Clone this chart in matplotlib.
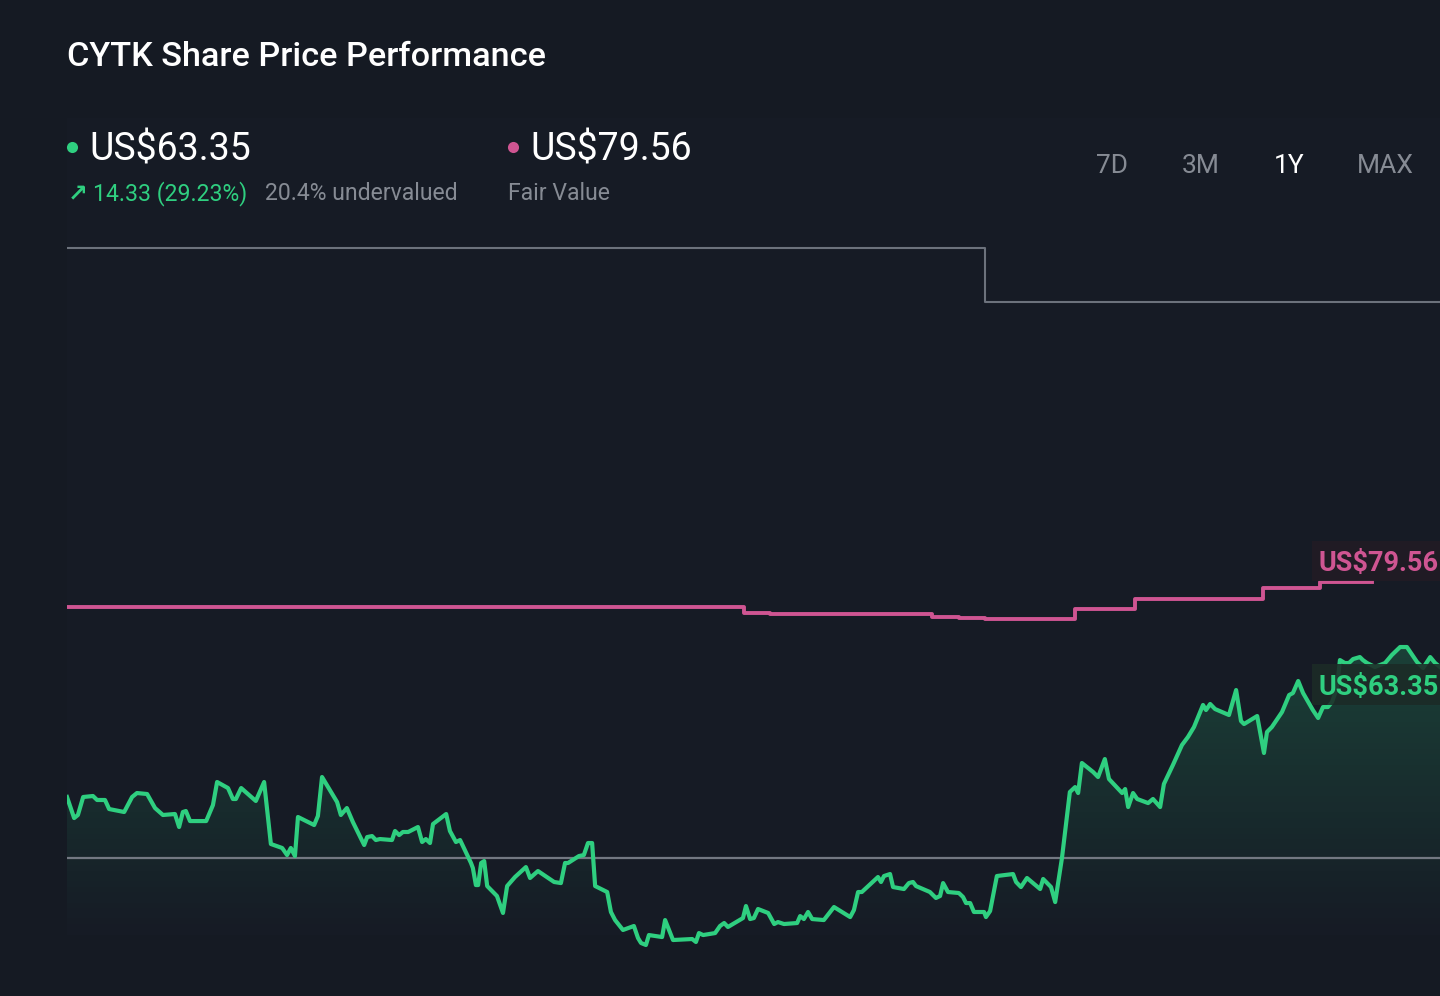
import numpy as np
import matplotlib
matplotlib.use('Agg')
import matplotlib.pyplot as plt
from matplotlib.patches import Rectangle
from matplotlib.lines import Line2D
from matplotlib.colors import LinearSegmentedColormap

plt.rcParams['font.family'] = ['Roboto', 'DejaVu Sans']

# ---- data ----
# share price, days from start of the 1Y window
price_days = [0.0, 1.9, 2.9, 4.3, 6.9, 8.0, 10.1, 11.2, 15.2, 17.3, 18.6, 21.3, 23.4, 25.5,
              28.7, 29.8, 30.8, 31.6, 32.7, 37.0, 38.8, 39.9, 42.8, 44.1, 44.9, 46.3, 50.2,
              52.4, 54.2, 57.2, 58.5, 59.5, 60.6, 61.4, 65.7, 66.7, 67.8, 71.8, 72.8, 74.4,
              76.0, 79.0, 79.8, 81.1, 82.1, 83.2, 86.4, 87.2, 88.3, 89.3, 90.7, 93.3, 94.4,
              95.4, 96.5, 97.3, 100.8, 101.8, 103.4, 104.5, 107.4, 107.9, 108.7, 109.3, 110.1,
              110.9, 111.7, 114.3, 115.9, 117.0, 119.1, 122.0, 123.1, 125.2, 129.5, 131.3,
              132.4, 133.2, 136.1, 137.4, 138.5, 139.6, 140.4, 143.6, 144.6, 145.7, 147.8,
              150.7, 151.8, 152.6, 153.9, 154.7, 158.2, 159.0, 161.1, 166.2, 167.2, 168.0,
              169.1, 172.3, 173.6, 174.7, 175.7, 179.7, 180.5, 181.6, 182.6, 183.7, 186.4,
              188.0, 189.0, 190.6, 194.1, 194.9, 195.9, 197.0, 198.1, 201.2, 203.9, 208.2,
              209.2, 210.3, 211.3, 215.6, 216.4, 217.2, 218.8, 219.6, 222.5, 223.8, 224.9,
              225.7, 229.4, 231.0, 232.1, 232.9, 234.2, 237.1, 238.2, 239.0, 240.1, 241.1,
              243.8, 244.3, 245.4, 247.2, 251.5, 252.3, 253.6, 255.2, 258.7, 259.5, 261.6,
              262.7, 264.5, 266.6, 268.0, 268.8, 269.8, 272.8, 274.1, 275.9, 277.0, 280.5,
              281.3, 282.1, 283.4, 284.5, 287.4, 288.7, 290.6, 291.6, 294.0, 296.4, 298.0,
              299.6, 302.0, 302.8, 303.9, 305.2, 308.9, 310.8, 312.1, 312.9, 316.4, 318.2,
              319.0, 320.3, 323.0, 324.9, 325.9, 327.3, 328.6, 331.2, 332.6, 333.9, 335.2,
              336.3, 337.6, 338.4, 339.7, 340.8, 341.9, 343.7, 344.5, 345.6, 347.7, 350.4,
              352.2, 354.4, 356.2, 358.9, 360.5, 362.4, 363.7, 365.0]
price_vals = [55.77, 53.44, 53.78, 55.77, 55.88, 55.44, 55.44, 54.44, 54.11, 55.77, 56.21, 56.10,
              54.55, 53.78, 53.89, 52.45, 54.11, 54.22, 53.11, 53.11, 54.88, 57.43, 56.76, 55.55,
              55.55, 56.76, 55.33, 57.43, 50.57, 50.13, 49.35, 50.13, 49.24, 53.56, 52.67, 53.67,
              57.98, 55.21, 53.78, 54.55, 53.00, 50.46, 51.34, 51.45, 51.01, 51.12, 51.01, 52.01,
              51.56, 51.90, 51.90, 52.45, 50.79, 51.12, 50.68, 52.78, 53.89, 52.01, 50.79, 51.01,
              48.47, 47.91, 46.03, 46.03, 48.47, 48.69, 45.92, 44.82, 42.94, 45.92, 46.92, 48.02,
              46.81, 47.58, 46.37, 46.25, 48.47, 48.47, 49.24, 49.35, 50.68, 50.68, 45.92, 45.26,
              43.05, 42.16, 41.06, 41.50, 40.17, 39.62, 39.40, 40.50, 40.28, 42.16, 39.95, 40.06,
              39.73, 40.72, 40.50, 40.72, 41.50, 41.83, 41.39, 42.38, 43.71, 42.27, 42.38, 43.38,
              42.94, 41.72, 41.94, 41.72, 41.83, 42.60, 42.27, 43.05, 42.27, 42.16, 43.60, 42.49,
              43.27, 45.26, 45.26, 46.92, 46.37, 47.03, 47.25, 45.81, 45.59, 46.25, 46.37, 45.92,
              45.26, 44.60, 44.82, 46.25, 45.26, 45.15, 44.71, 44.04, 44.04, 43.05, 43.05, 42.49,
              43.16, 47.03, 47.25, 46.37, 45.81, 46.81, 45.59, 46.70, 45.81, 44.15, 49.02, 56.32,
              56.87, 56.21, 59.53, 58.53, 57.98, 59.97, 57.76, 56.21, 56.65, 54.66, 56.21, 55.55,
              55.10, 55.55, 54.66, 57.21, 59.31, 61.52, 62.41, 63.51, 65.95, 65.39, 66.06, 65.50,
              64.84, 67.60, 64.17, 63.84, 64.73, 60.64, 62.96, 63.51, 65.17, 67.05, 67.27, 68.60,
              67.27, 65.39, 64.51, 65.72, 65.72, 66.28, 67.83, 70.92, 70.59, 70.59, 71.03, 71.25,
              70.92, 70.59, 70.15, 70.59, 71.48, 72.36, 72.36, 70.70, 70.04, 71.25, 70.59, 70.15]

# fair value (step line)
fair_days = [0, 180, 187, 230, 237, 244, 268, 284, 318, 333, 347]
fair_vals = [76.79, 76.12, 76.01, 75.68, 75.57, 75.46, 76.57, 77.67, 78.89, 79.56, 79.56]

# analyst price target (step line)
target_days = [0, 244, 365]
target_vals = [116.50, 110.52, 110.52]

price_year_ago = 49.02
last_price = 'US$63.35'
fair_value = 'US$79.56'
change_text = '14.33 (29.23%)'
valuation_text = '20.4% undervalued'
periods = ['7D', '3M', '1Y', 'MAX']
active_period = '1Y'

# ---- styling ----
BG = '#151a23'
GREEN = '#2fcf80'
PINK = '#cf5592'
GREY = '#6c727c'
MUTED = '#868b94'
W, H = 1440, 996

def fx(px):
    return px / W

def fy(py):
    return 1 - py / H

fig = plt.figure(figsize=(W / 100, H / 100), dpi=100, facecolor=BG)

# faint panel behind the chart
fig.patches.append(Rectangle((fx(67), fy(935)), 1 - fx(67), (935 - 118) / H,
                             transform=fig.transFigure, facecolor='#161b25',
                             edgecolor='none', zorder=-5))

ax = fig.add_axes([fx(67), fy(960), 1 - fx(67), (960 - 230) / H])
ax.set_zorder(1)
ax.set_facecolor('none')
ax.set_xlim(0, 365)
ax.set_ylim(37.74, 118.49)
ax.axis('off')

# gradient fill under the price line
fill = ax.fill_between(price_days, price_vals, 30, facecolor='none', edgecolor='none')
grad_cmap = LinearSegmentedColormap.from_list(
    'g', [(0.18, 0.81, 0.5, 0.0), (0.18, 0.81, 0.5, 0.22)])
grad = np.linspace(0, 1, 256).reshape(-1, 1)
im = ax.imshow(grad, cmap=grad_cmap, aspect='auto', origin='lower',
               extent=[0, 365, 40.5, 73.5], zorder=1, interpolation='bilinear')
im.set_clip_path(fill.get_paths()[0], transform=ax.transData)

ax.axhline(price_year_ago, color='#737882', lw=1.6, zorder=2)
ax.step(target_days, target_vals, where='post', color=GREY, lw=1.5, zorder=2)
ax.step(fair_days, fair_vals, where='post', color=PINK, lw=2.8, zorder=3)
ax.plot(price_days, price_vals, color=GREEN, lw=3.0, zorder=4,
        solid_joinstyle='round')

# value tags at the right edge
fig.patches.append(Rectangle((fx(1312), fy(581)), 1 - fx(1312), 40 / H,
                             transform=fig.transFigure, facecolor='#211b24',
                             alpha=0.92, edgecolor='none', zorder=5))
fig.patches.append(Rectangle((fx(1312), fy(705)), 1 - fx(1312), 41 / H,
                             transform=fig.transFigure, facecolor='#1c2b27',
                             alpha=0.88, edgecolor='none', zorder=5))
fig.text(fx(1319), fy(563), fair_value, color=PINK, fontsize=19.5,
         fontweight='bold', va='center', ha='left', zorder=6)
fig.text(fx(1319), fy(687), last_price, color=GREEN, fontsize=19.5,
         fontweight='bold', va='center', ha='left', zorder=6)

# header
fig.text(fx(67), fy(57), 'CYTK Share Price Performance', color='white',
         fontsize=24.7, fontweight='medium', va='center', ha='left')

fig.add_artist(Line2D([fx(72)], [fy(147)], transform=fig.transFigure, marker='o',
                      markersize=8, color=GREEN, markeredgewidth=0))
fig.text(fx(89), fy(150), last_price, color='white', fontsize=27,
         va='center', ha='left')
fig.text(fx(68), fy(194), '\u2197', color=GREEN, fontsize=17, fontweight='bold',
         va='center', ha='left', family='DejaVu Sans')
fig.text(fx(93), fy(194), change_text, color=GREEN, fontsize=16.6,
         va='center', ha='left')
fig.text(fx(265), fy(194), valuation_text, color=MUTED, fontsize=16.6,
         va='center', ha='left')

fig.add_artist(Line2D([fx(513)], [fy(147)], transform=fig.transFigure, marker='o',
                      markersize=8, color=PINK, markeredgewidth=0))
fig.text(fx(530), fy(150), fair_value, color='white', fontsize=27,
         va='center', ha='left')
fig.text(fx(508), fy(194), 'Fair Value', color=MUTED, fontsize=16.6,
         va='center', ha='left')

for label, cx in zip(periods, [1112, 1201, 1289, 1385]):
    fig.text(fx(cx), fy(166), label, color='white' if label == active_period else MUTED,
             fontsize=19, va='center', ha='center')

fig.savefig('out.png', dpi=100, facecolor=BG)
